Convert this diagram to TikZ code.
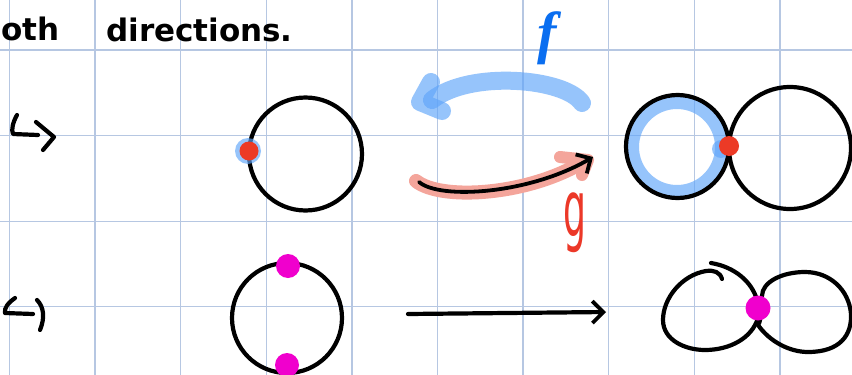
\documentclass[tikz,border=0pt]{standalone}
\usepackage{fontspec}
\setmainfont{DejaVu Sans}
\newfontfamily\labelfont{Liberation Serif}
\usetikzlibrary{arrows.meta}
\definecolor{gridc}{RGB}{182,199,226}
\definecolor{hlblue}{RGB}{95,165,250}
\definecolor{salmonc}{RGB}{244,165,155}
\definecolor{reddot}{RGB}{236,58,38}
\definecolor{magdot}{RGB}{240,0,205}
\definecolor{fblue}{RGB}{10,110,240}
\definecolor{gred}{RGB}{236,56,40}
\begin{document}
\begin{tikzpicture}[x=1pt,y=-1pt,
  ink/.style={line width=4.2pt,line cap=round,line join=round,black},
  gridline/.style={line width=1.3pt,gridc},
  bluehl/.style={line width=18pt,line cap=round,line join=round,hlblue,draw opacity=0.65},
  salmonhl/.style={line width=14pt,line cap=round,line join=round,salmonc},
  handtext/.style={inner sep=0pt,font=\fontsize{31}{31}\selectfont\bfseries},
  maplabel/.style={inner sep=4pt},
  barb/.style={-{Straight Barb[length=11pt,width=22pt,line width=3.8pt]}}]
\fill[white] (0,0) rectangle (852,375);
\useasboundingbox (0,0) rectangle (852,375);
% grid
\foreach \i in {0,...,9} {\draw[gridline] ({9.5+85.6*\i},0) -- ({9.5+85.6*\i},375);}
\foreach \j in {0,...,3} {\draw[gridline] (0,{50+85.6*\j}) -- (852,{50+85.6*\j});}
% heading text
\node[handtext,anchor=base west] (t1) at (1,40) {oth};
\node[handtext,anchor=base west] (t2) at (106,41) {directions.};
% hook arrows on the left
\draw[ink] (17,115) .. controls (13,122) and (11,130) .. (13,134) -- (38,135);
\draw[ink] (36,122) -- (54,137) -- (43,150);
\draw[ink] (15,298) .. controls (8,303) and (4,308) .. (5,313) -- (33,314);
\draw[ink] (37,300) .. controls (44,307) and (45,318) .. (40,330);
% top-left circle
\draw[ink] (305.5,154) circle[radius=56.5];
\fill[hlblue,opacity=0.65] (248,151) circle[radius=13];
\fill[reddot] (249,151) circle[radius=9.5];
% top-right: two circles
\draw[bluehl,line width=14pt] (677,147) circle[radius=45];
\fill[hlblue,opacity=0.65] (721,149) circle[radius=9];
\draw[ink] (677.5,146.5) circle[radius=51.5];
\draw[ink] (790,148) circle[radius=61];
\fill[reddot] (729,146) circle[radius=10];
% f arrow (blue, leftwards)
\coordinate (fs) at (582,103);
\coordinate (fe) at (432,100);
\draw[bluehl] (fs) .. controls (565,78) and (470,70) .. (fe);
\draw[bluehl] (431,82) -- (420,102) -- (442,111);
\node[maplabel,fblue,font=\labelfont\bfseries\itshape\fontsize{58}{58}\selectfont] (flab) at (547,38) {f};
% g arrow (salmon highlight + black)
\coordinate (gs) at (419,182);
\coordinate (ge) at (593,157);
\draw[salmonhl] (416,181) .. controls (440,200) and (520,196) .. (576,166);
\draw[salmonhl,line width=12pt] (560,157) -- (588,160) -- (582,175);
\draw[ink,line width=3.8pt,barb] (gs) .. controls (440,200) and (530,194) .. (ge);
\node[maplabel,gred] (glab) at (575,223) {\resizebox*{23pt}{60pt}{g}};
% bottom row
\draw[ink] (287,318) circle[radius=55];
\fill[magdot] (288,266) circle[radius=12];
\fill[magdot] (287,365) circle[radius=12];
\coordinate (hs) at (408,314);
\coordinate (he) at (606,312);
\draw[ink,barb] (hs) -- (he);
% figure-eight curve
\draw[ink] (711,263) .. controls (735,267) and (752,282) .. (757,300)
  .. controls (762,318) and (760,322) .. (758,325)
  .. controls (770,342) and (790,352) .. (808,352)
  .. controls (840,352) and (852,335) .. (851,314)
  .. controls (849,290) and (830,272) .. (805,272)
  .. controls (782,272) and (762,282) .. (762,296);
\draw[ink] (722,279) .. controls (720,272) and (714,270) .. (706,271)
  .. controls (682,275) and (663,298) .. (663,320)
  .. controls (663,340) and (685,350) .. (705,350)
  .. controls (730,350) and (752,338) .. (758,318);
\fill[magdot] (758,308) circle[radius=12.5];
\end{tikzpicture}
\end{document}
